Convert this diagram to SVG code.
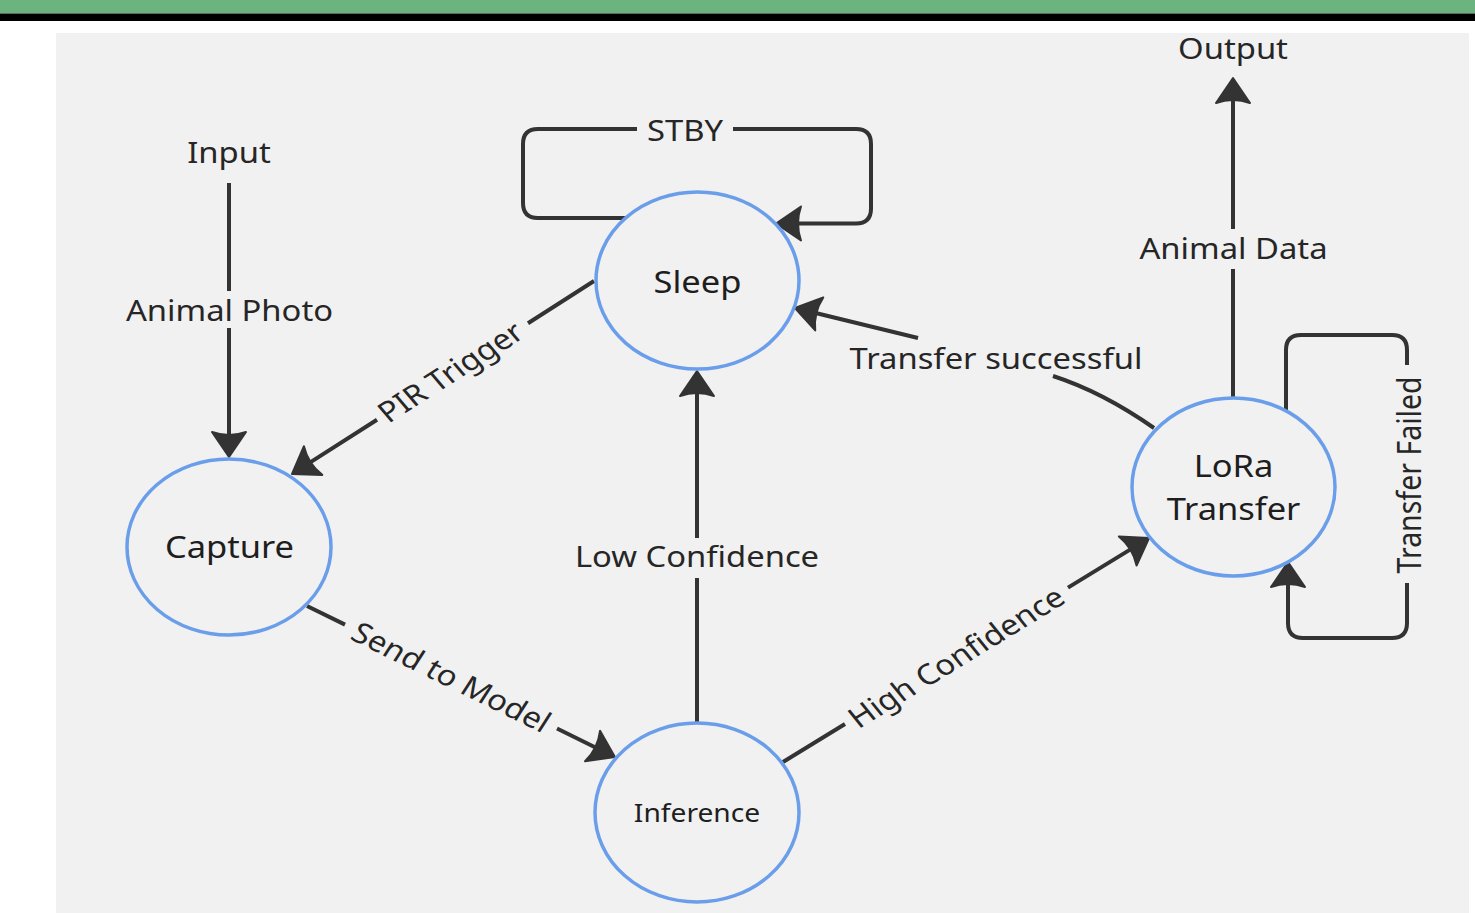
<svg xmlns="http://www.w3.org/2000/svg" width="1475" height="913" viewBox="0 0 1475 913">
<defs>
<style>
.bgp{fill:#f1f1f1}
.node{fill:#f1f1f1;stroke:#6a9eea;stroke-width:3.5}
.nt{font-family:"Noto Sans","Open Sans","DejaVu Sans",sans-serif;font-size:30px;fill:#1e1e1e;text-anchor:middle}
.et{font-family:"Noto Sans","Open Sans","DejaVu Sans",sans-serif;font-size:28.5px;fill:#262626;text-anchor:middle}
.c{fill:none;stroke:#333333;stroke-width:4;stroke-linecap:butt;stroke-linejoin:round}
</style>
<marker id="ah" markerUnits="userSpaceOnUse" orient="auto" overflow="visible" markerWidth="1" markerHeight="1" refX="0" refY="0">
<path d="M16,0 L-9,-17 Q-3,0 -9,17 Z" fill="#333333" stroke="#333333" stroke-width="2" stroke-linejoin="round"/>
</marker>
</defs>
<rect x="0" y="0" width="1475" height="913" fill="#ffffff"/>
<rect x="0" y="0" width="1475" height="13.5" fill="#6cb47f"/>
<rect x="0" y="13.5" width="1475" height="7.5" fill="#000000"/>
<rect class="bgp" x="56" y="33" width="1413" height="880"/>

<g id="connectors">
<path class="c" d="M229,183 V291 M229,328 V441" marker-end="url(#ah)"/>
<path class="c" d="M594,281 L528,323.2 M377,419.7 L305.5,465.4" marker-end="url(#ah)"/>
<path class="c" d="M307,606 L345,624.6 M557,728.5 L600.6,750" marker-end="url(#ah)"/>
<path class="c" d="M697,723 V578 M697,538 V387" marker-end="url(#ah)"/>
<path class="c" d="M783,762 L845,724 M1068,587.6 L1135.4,546.4" marker-end="url(#ah)"/>
<path class="c" d="M1154,428 Q1102.5,392 1053,376 M918,338 L810.5,311.8" marker-end="url(#ah)"/>
<path class="c" d="M1233,398 V269 M1233,229 V94" marker-end="url(#ah)"/>
<path class="c" d="M626,218 H538 Q523,218 523,203 V144 Q523,129 538,129 H637 M733,129 H856 Q871,129 871,144 V208.5 Q871,223.5 856,223.5 H792" marker-end="url(#ah)"/>
<path class="c" d="M1286,410 V350 Q1286,335 1301,335 H1392 Q1407,335 1407,350 V365 M1407,583 V623 Q1407,638 1392,638 H1303 Q1288,638 1288,623 V578" marker-end="url(#ah)"/>
<g id="edge-labels">
<text class="et" transform="translate(229.5,321) scale(1.15,1)">Animal Photo</text>
<text class="et" transform="translate(685,141) scale(1.15,1)">STBY</text>
<text class="et" transform="translate(457.4,380.1) scale(1.15,1) rotate(-36.3)">PIR Trigger</text>
<text class="et" transform="translate(445.6,686) scale(1.15,1) rotate(29.4)">Send to Model</text>
<text class="et" transform="translate(697,567) scale(1.15,1)">Low Confidence</text>
<text class="et" transform="translate(963,665.5) scale(1.15,1) rotate(-35.1)">High Confidence</text>
<text class="et" transform="translate(996,369) scale(1.15,1)">Transfer successful</text>
<text class="et" transform="translate(1233.5,259) scale(1.15,1)">Animal Data</text>
<text class="et" transform="translate(1421,475) scale(1.15,1) rotate(-90)">Transfer Failed</text>
</g>
</g>

<g id="input"><text class="et" transform="translate(229,163) scale(1.15,1)">Input</text></g>
<g id="output"><text class="et" transform="translate(1233,59) scale(1.15,1)">Output</text></g>

<g id="sleep">
<ellipse class="node" cx="697.5" cy="280.5" rx="101.5" ry="88.5"/>
<text class="nt" transform="translate(697.5,293) scale(1.15,1)">Sleep</text>
</g>
<g id="capture">
<ellipse class="node" cx="229" cy="547" rx="102" ry="88"/>
<text class="nt" transform="translate(229.5,558) scale(1.15,1)">Capture</text>
</g>
<g id="inference">
<ellipse class="node" cx="697" cy="812.5" rx="102" ry="89.5"/>
<text class="nt" style="font-size:24.5px" transform="translate(697,822) scale(1.15,1)">Inference</text>
</g>
<g id="lora-transfer">
<ellipse class="node" cx="1233.5" cy="487" rx="101.5" ry="89"/>
<text class="nt" transform="translate(1233.5,477) scale(1.15,1)">LoRa</text>
<text class="nt" transform="translate(1233.5,520) scale(1.15,1)">Transfer</text>
</g>
</svg>
